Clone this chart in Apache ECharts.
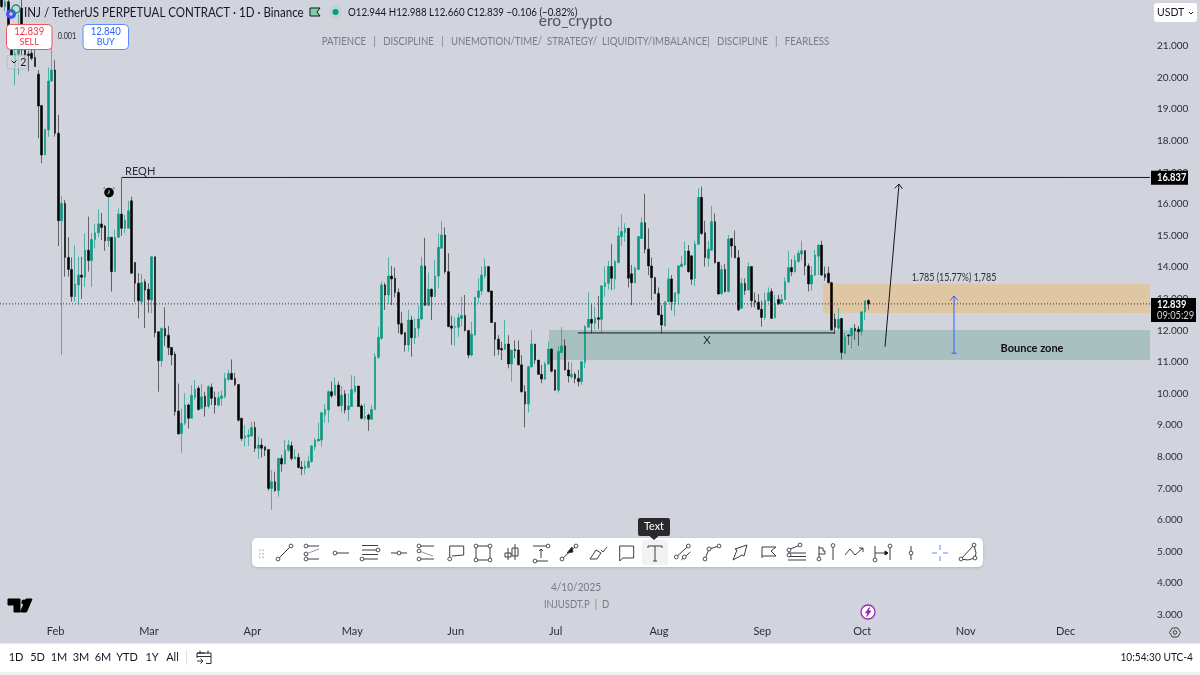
<!DOCTYPE html>
<html><head><meta charset="utf-8">
<style>html,body{margin:0;padding:0;background:#d1d4dc}#c{width:1200px;height:675px}</style>
<script src="https://cdn.jsdelivr.net/npm/echarts@6/dist/echarts.min.js"></script>
</head><body><div id="c"></div>
<script>
// ---- chart values (INJUSDT.P daily, 17 Jan 2025 .. 4 Oct 2025) ----
const firstDay = '2025-01-17';
const dayCount = 345;
const monthLabels = ['Jan','Feb','Mar','Apr','May','Jun','Jul','Aug','Sep','Oct','Nov','Dec'];
const priceTicksHidden = [2, 22];
const opens = [
22.6,22.25,22.4,21.2,20.35,20.75,22.2,20.87,20.75,20.77,
20.64,20.11,19.12,17.55,18.34,19.89,20.24,18.24,15.47,16.02,
14.31,13.93,13.07,13.44,13.75,13.68,14.54,14.21,14.88,15.09,
15.37,15.30,14.84,14.95,13.86,14.95,15.68,15.23,15.23,16.10,
14.15,13.49,12.91,13.54,13.30,12.96,14.33,11.96,11.04,12.06,
11.85,11.46,11.25,9.45,8.74,9.06,9.64,9.22,9.88,10.17,
9.53,9.92,9.60,10.20,9.88,9.64,9.85,9.90,10.45,10.64,
10.48,10.29,9.22,8.60,8.64,8.66,8.93,8.27,8.37,8.32,
8.23,7.0,7.21,6.93,7.95,7.77,8.21,8.35,7.93,7.98,
7.67,7.63,7.67,7.85,8.32,8.50,8.53,9.32,9.48,10.06,
9.95,10.27,9.62,9.99,9.50,9.59,10.06,10.24,9.61,9.24,
9.32,9.19,9.50,11.15,11.75,13.44,13.12,13.72,13.65,13.20,
12.22,11.93,11.54,12.33,11.77,12.07,12.36,14.04,12.80,13.30,
13.07,13.72,14.60,15.02,13.86,12.14,12.10,12.10,12.38,12.47,
12.0,11.22,11.86,13.05,13.25,13.72,14.02,13.25,12.25,11.72,
11.43,11.40,11.57,10.94,11.40,11.38,10.91,10.06,9.67,10.85,
11.57,11.06,10.61,10.46,10.94,11.41,10.75,10.11,11.30,11.51,
10.75,10.53,10.61,10.48,10.38,10.99,12.10,12.35,12.23,12.40,
12.35,13.39,13.49,14.02,13.63,14.15,14.97,15.10,15.23,13.79,
13.51,13.93,14.91,15.41,14.57,14.04,13.67,13.17,12.49,12.15,
12.91,13.63,12.89,13.17,14.02,14.07,14.51,14.36,13.65,14.73,
16.21,15.09,14.28,14.54,15.44,14.16,13.17,13.93,13.23,14.91,
14.67,14.30,12.70,13.49,13.28,14.02,12.94,12.89,12.67,12.41,
12.94,13.23,12.40,12.98,12.86,12.98,13.54,13.99,13.86,14.18,
14.42,14.52,14.04,13.47,13.75,14.35,14.70,13.78,13.81,13.51,
12.35,12.07,12.38,11.28,11.85,11.83,12.07,12.04,11.96,12.59,
12.944];
const closes = [
22.25,22.4,21.2,20.7,20.75,21.05,20.87,20.72,20.7,20.61,
20.35,19.1,17.55,18.36,19.89,20.24,18.24,15.47,16.02,14.31,
13.93,13.07,13.47,13.75,13.68,14.54,14.21,14.88,15.09,15.37,
15.26,14.84,14.95,13.86,14.95,15.68,15.23,15.49,15.79,13.81,
13.49,12.94,13.51,13.28,12.98,14.33,11.93,11.04,12.06,11.82,
11.46,11.22,9.43,8.72,9.06,9.64,9.22,9.95,10.13,9.50,
9.90,9.59,10.22,9.85,9.64,9.87,9.93,10.48,10.64,10.45,
10.29,9.16,8.58,8.66,8.69,8.93,8.27,8.37,8.27,8.21,
7.0,7.21,6.93,7.95,7.77,8.21,8.37,7.95,8.0,7.66,
7.63,7.71,7.85,8.34,8.53,8.56,9.40,9.50,10.06,9.93,
10.27,9.61,9.95,9.48,9.61,10.13,10.24,9.59,9.22,9.27,
9.19,9.50,11.17,11.78,13.44,13.12,13.72,13.63,13.20,12.20,
11.89,11.54,12.33,11.77,12.07,12.36,14.04,12.80,13.30,13.07,
13.72,14.63,15.02,13.86,12.12,12.07,12.12,12.40,12.47,12.0,
11.22,11.88,13.05,13.25,13.75,14.02,13.23,12.25,11.72,11.40,
11.38,11.57,10.94,11.38,11.36,10.91,10.06,9.67,10.85,11.57,
11.06,10.61,10.46,10.94,11.41,10.71,10.11,11.33,11.51,10.75,
10.56,10.61,10.48,10.38,11.01,12.12,12.35,12.23,12.40,12.35,
13.41,13.51,14.02,13.65,14.18,14.99,15.13,15.23,13.65,13.51,
13.97,14.97,15.41,14.57,14.04,13.67,13.17,12.49,12.17,12.91,
13.63,12.91,13.19,14.04,14.10,14.51,13.86,13.62,14.73,16.21,
15.07,14.31,14.57,15.44,14.14,13.15,13.93,13.23,14.89,14.67,
14.30,12.65,13.49,13.26,14.02,12.94,12.89,12.67,12.41,12.94,
13.19,12.38,12.86,12.84,12.98,13.54,13.99,13.86,14.21,14.44,
14.52,14.04,13.47,13.75,14.39,14.70,13.75,13.68,13.51,12.01,
12.10,12.35,11.30,11.80,11.82,12.07,11.99,11.96,12.59,12.94,
12.839];
const lows = [
22.2,22.1,21.0,20.7,19.77,20.08,20.7,20.6,20.2,20.55,
20.35,18.08,17.29,17.55,18.13,19.87,18.13,14.67,11.22,13.70,
13.70,12.91,12.91,12.83,13.0,13.38,13.86,13.38,14.60,14.95,
14.86,14.52,14.65,13.23,13.86,14.93,14.99,15.07,15.23,13.79,
12.9,12.38,12.83,12.07,12.56,12.54,11.78,10.06,10.85,11.51,
11.22,10.90,9.30,8.72,8.13,9.0,8.90,9.22,9.80,9.46,
9.50,9.27,9.53,9.64,9.37,9.59,9.61,9.85,10.41,10.43,
10.24,9.11,8.51,8.32,8.34,8.64,8.16,7.93,7.98,8.02,
6.93,6.32,6.89,6.74,7.53,7.77,8.16,7.88,7.92,7.63,
7.42,7.45,7.63,7.82,8.21,8.48,8.32,9.08,9.08,9.87,
9.95,9.59,9.41,9.37,9.14,9.59,10.03,9.59,9.18,9.16,
8.82,9.16,9.48,11.10,11.70,12.65,12.84,12.80,13.05,11.91,
11.85,11.33,11.33,11.17,11.57,11.80,12.33,12.77,12.77,12.33,
13.05,13.33,14.60,13.79,12.10,11.54,11.51,11.80,12.14,11.96,
11.12,11.17,11.82,12.86,13.12,13.65,13.20,12.23,11.19,11.22,
11.06,11.38,10.80,10.38,11.12,10.88,10.03,8.93,9.40,10.82,
10.94,10.59,10.33,10.43,10.91,10.67,10.09,10.03,11.28,10.73,
10.35,10.48,10.33,10.22,10.27,10.80,12.10,11.91,12.04,12.04,
11.91,13.07,13.30,13.28,13.30,14.12,14.67,14.81,13.36,12.80,
13.49,13.91,14.91,14.44,13.75,12.96,13.15,12.49,11.91,12.12,
12.89,12.63,12.47,12.83,14.0,14.05,13.83,13.44,13.41,14.70,
15.02,14.02,14.02,14.54,14.12,13.15,13.12,13.20,13.20,14.31,
14.28,12.61,12.70,13.12,13.26,12.73,12.73,12.65,12.12,12.33,
12.91,12.36,12.38,12.80,12.84,12.96,13.49,13.72,13.83,14.14,
14.21,13.75,13.23,13.26,13.72,13.75,13.72,13.57,13.49,12.01,
11.89,12.02,11.08,11.25,11.54,11.43,11.70,11.51,11.83,12.33,
12.660];
const highs = [
23.0,22.9,22.7,21.5,21.2,22.0,22.5,21.0,20.85,20.9,
20.87,20.24,19.12,18.36,20.32,20.98,20.56,18.82,16.25,16.13,
14.95,14.31,14.70,14.33,14.33,15.07,15.6,15.07,15.37,15.83,
15.71,15.34,16.5,14.95,15.18,15.86,16.84,15.65,16.10,16.23,
14.15,13.81,13.78,13.62,13.49,14.35,14.33,11.96,12.10,12.73,
12.14,11.46,11.33,10.32,9.53,10.01,9.69,10.27,10.43,10.24,
10.30,10.06,10.27,10.32,10.06,10.06,10.09,10.66,10.75,11.08,
10.66,10.29,9.24,9.0,8.87,9.11,9.11,8.64,8.58,8.32,
8.23,7.58,7.53,7.95,8.06,8.53,8.53,8.48,8.24,8.11,
7.87,7.88,8.04,8.37,8.60,9.08,9.40,9.67,10.11,10.38,
10.51,10.38,10.24,10.11,10.0,10.58,10.56,10.24,9.67,9.67,
9.37,9.64,11.27,12.12,13.55,13.51,14.31,14.04,13.99,13.33,
12.59,11.93,12.65,12.46,12.38,12.80,14.33,14.93,13.83,13.33,
14.23,15.07,15.46,15.26,14.44,12.46,12.41,12.54,13.07,13.12,
12.0,12.28,13.05,13.65,14.02,14.28,14.04,13.25,12.25,11.85,
11.64,12.33,11.85,11.38,11.68,11.68,11.22,10.27,10.88,12.01,
11.57,11.06,10.91,11.01,11.64,11.43,10.77,11.49,12.10,11.72,
11.01,10.99,10.67,10.75,11.04,12.17,13.20,12.82,12.75,13.09,
13.41,14.02,14.21,14.73,14.23,15.28,15.68,15.39,15.23,14.07,
14.02,14.97,15.58,16.32,15.23,14.31,13.70,13.36,12.80,12.91,
13.96,13.75,13.19,14.07,14.36,14.81,14.70,14.36,14.84,16.50,
16.55,15.47,14.83,15.94,15.70,14.16,14.07,14.10,15.02,14.91,
15.16,14.54,13.65,13.65,14.15,14.02,13.20,13.15,12.94,13.20,
13.36,13.33,13.12,13.12,13.15,13.68,14.52,14.25,14.39,14.54,
14.84,14.54,14.12,14.02,14.54,14.73,14.84,14.02,14.02,13.54,
12.54,12.70,12.38,11.93,11.89,12.07,12.20,12.14,12.59,12.94,
12.988];
const lastPrice = 12.839;
const levelPrice = 16.837;
// annotation geometry in chart units: [day position, price, day position, price]
const zoneTeal   = [164.7, 12.01, 345, 11.06];
const zoneOrange = [246.9, 13.48, 345, 12.55];
const lineReqh   = [36.6, 16.84, 345, 16.84];
const lineX      = [173.4, 11.92, 250.5, 11.92];
const arrowUp    = [265.5, 11.48, 269.7, 16.63];
const arrowMeasure = [286.2, 11.28, 286.2, 13.09];
const linePrice  = [0, lastPrice, 345, lastPrice];
const notes = [
  ['REQH', 37.5, 17.04],
  ['X', 212.1, 11.70],
  ['Bounce zone', 309.6, 11.44],
  ['1.785 (15.77%) 1,785', 286.2, 13.66]
];

// ---- derived ----
const categories = [];
{ const d0 = new Date(firstDay + 'T00:00:00Z');
  for (let i = 0; i < dayCount; i++) categories.push(new Date(d0.getTime() + i * 864e5).toISOString().slice(0, 10)); }
const candles = opens.map((o, i) => [o, closes[i], lows[i], highs[i]]);

const INK = '#131722', GREY = '#787b86', GREEN = '#089981';
const FONT = 'Lato,"Noto Sans",Arial,sans-serif';

// ---- pixel chrome (toolbar, buttons, bars) ----
const els = [];
// sx squeezes the text horizontally about its anchor, to match the reference's narrower face
const T = (text, x, y, size, fill, extra, sx) => els.push({type:'text', z:100, x, y, scaleX:sx||1, scaleY:1, style:Object.assign({text, x:0, y:0, fontSize:size, fontFamily:FONT, fill, align:'left', verticalAlign:'middle'}, extra||{})});
const R = (x, y, w, h, fill, r, stroke, extra) => els.push({type:'rect', z:100, shape:{x,y,width:w,height:h,r:r||0}, style:Object.assign({fill, stroke:stroke||null, lineWidth:1}, extra||{})});
const C = (cx, cy, r, fill, stroke, lw) => els.push({type:'circle', z:101, shape:{cx,cy,r}, style:{fill, stroke:stroke||null, lineWidth:lw||1}});
const P = (pts, stroke, lw, fill) => els.push({type:fill?'polygon':'polyline', z:101, shape:{points:pts}, style:{stroke:stroke||INK, lineWidth:lw||1, fill:fill||null}});

// header
C(11, 14, 5, '#4a4df0'); C(11, 14, 1.8, '#d1d4dc');
C(16, 9, 4, 'none', GREEN, 1.5);
T('INJ / TetherUS PERPETUAL CONTRACT · 1D · Binance', 24, 12.5, 13, INK, null, 0.888);
P([[310,8],[320,8],[317,12],[320,16],[310,16]], null, 0, '#7fd0a0');
C(335.5, 12, 6.5, '#bcd4d4'); C(335.5, 12, 3, GREEN);
T('O12.944 H12.988 L12.660 C12.839 −0.106 (−0.82%)', 348, 12.5, 11.3, INK, null, 0.86);
T('ero_crypto', 575.5, 21, 15.5, '#50535e', {align:'center'});
T('PATIENCE   |   DISCIPLINE   |   UNEMOTION/TIME/  STRATEGY/  LIQUIDITY/IMBALANCE|   DISCIPLINE   |   FEARLESS', 575.5, 41.5, 11.2, GREY, {align:'center'}, 0.858);

// buy / sell
R(6.5, 24.5, 45.5, 25, '#fff', 4, '#f7525f');
T('12.839', 29.2, 31.5, 11.5, '#f23645', {align:'center'}, 0.83);
T('SELL', 29.2, 42.5, 9, '#f23645', {align:'center'});
T('0.001', 67, 36.5, 8.5, '#2a2e39', {align:'center'}, 0.85);
R(83, 24.5, 45.5, 25, '#fff', 4, '#5b8bff');
T('12.840', 105.7, 31.5, 11.5, '#2962ff', {align:'center'}, 0.83);
T('BUY', 105.7, 42.5, 9, '#2962ff', {align:'center'});
R(7, 55, 20, 14, 'rgba(209,212,220,0.7)', 2, 'rgba(120,123,134,0.25)');
P([[11.5,60.5],[14,63],[16.5,60.5]], INK, 1);
T('2', 23.2, 62.5, 10.5, INK, {align:'center'});

// price scale chrome
R(1154, 3, 43, 19, '#fff', 3);
T('USDT', 1157, 12.7, 10.5, INK);
P([[1189,12],[1191,14],[1193,12]], INK, 1);

// alarm icon
C(109, 192.5, 4.8, '#000');
P([[109,190],[109,193],[107.5,194]], '#fff', 0.8);
P([[103.5,188.5],[105,187.5]], '#222', 0.8); P([[113,187.5],[114.5,188.5]], '#222', 0.8);

// bottom texts and logos
T('4/10/2025', 576, 587, 11.5, GREY, {align:'center'}, 0.88);
T('INJUSDT.P  |  D', 576.5, 604.5, 10.8, GREY, {align:'center'}, 0.88);
P([[8,599],[20,599],[20,612],[14,612],[14,605],[8,605]], '#000', 0, '#000');
C(24, 602, 2.6, '#000');
P([[32,599],[26.5,612],[20.5,612],[26,599]], '#000', 0, '#000');
C(868, 612, 7, '#fff', '#9c27b0', 1.3);
P([[869.5,607.5],[865.5,612.8],[868,612.8],[866.8,616.5],[870.8,611],[868.3,611]], '#9c27b0', 0, '#9c27b0');
P([[1169.5,632.5],[1172.3,628],[1177.7,628],[1180.5,632.5],[1177.7,637],[1172.3,637],[1169.5,632.5]], '#3a3d45', 1);
C(1175, 632.5, 1.8, 'none', '#3a3d45', 1);

// bottom bar
R(0, 643.5, 1200, 28.5, '#fff');
R(0, 672, 1200, 3, '#f0f0f0');
[['1D',16],['5D',37.5],['1M',59],['3M',81],['6M',103],['YTD',127],['1Y',152],['All',172.5]].forEach(a => T(a[0], a[1], 657.7, 11, INK, {align:'center'}));
R(186, 650, 1, 15, '#e0e3eb');
P([[205,653],[197,653],[197,658]], '#2a2e39', 1); P([[197,653],[211,653],[211,663.5],[206,663.5]], '#2a2e39', 1);
P([[197,656.5],[211,656.5]], '#2a2e39', 1); P([[200,650.5],[200,654]], '#2a2e39', 1); P([[208,650.5],[208,654]], '#2a2e39', 1);
P([[197,661],[203,661]], '#2a2e39', 1); P([[200.5,658.5],[203,661],[200.5,663.5]], '#2a2e39', 1);
T('10:54:30 UTC-4', 1193, 657.5, 11.8, INK, {align:'right'}, 0.86);

// drawing toolbar
R(252, 538, 731, 29, '#fff', 5, null, {shadowBlur:3, shadowColor:'rgba(0,0,0,0.15)', shadowOffsetY:1});
R(642, 540, 26, 25, '#f2f2f2', 2);
for (const dx of [259,262.5]) for (const dy of [549.5,553,556.5]) R(dx, dy, 1.4, 1.4, '#b2b5be');
const CY = 553, IC = '#3a3d45';
const L = (cx, pts, col) => P(pts.map(p => [cx + p[0], CY + p[1]]), col || IC, 1);
const N = (cx, pts) => pts.forEach(p => C(cx + p[0], CY + p[1], 1.9, '#fff', IC, 0.9));
L(284.5,[[-6.5,6],[6.5,-7]]); N(284.5,[[-6.5,6],[6.5,-7]]);
L(312,[[-6,-7],[7,-7]]); L(312,[[-6,1],[7,-4]],'#9598a1'); L(312,[[-6,6],[7,6]]); N(312,[[-6,-7],[-6,1],[-6,6]]);
L(342,[[-7,0],[7,0]]); N(342,[[-7,0]]);
L(370,[[-8,-7.5],[8,-7.5]]); L(370,[[-8,-3],[8,-3]]); L(370,[[-8,1.5],[8,1.5]]); L(370,[[-8,6],[8,6]]); N(370,[[8,-3],[-8,6]]);
L(399,[[-8,0],[8,0]]); N(399,[[0,0]]);
L(426,[[-7,-7],[8,-7]]); L(426,[[-7,-2],[7,3]],'#9598a1'); L(426,[[-7,6],[8,6]]); N(426,[[-7,-7],[-7,-2],[-7,6]]);
L(456.7,[[-7,6],[-7,-7],[7,-7],[7,2],[-5,3]]); N(456.7,[[-7,6]]);
L(483,[[-7,-7],[7,-7],[7,7],[-7,7],[-7,-7]]); N(483,[[-7,-7],[7,-7],[7,7],[-7,7]]);
L(512,[[3,-9],[3,7]]); L(512,[[0,-5],[6,-5],[6,3],[0,3],[0,-5]]); L(512,[[-4,-5],[-4,7]]); L(512,[[-7,0],[-1,0],[-1,4],[-7,4],[-7,0]]);
L(541,[[-8,-7],[7,-7]]); L(541,[[-8,8],[7,8]]); L(541,[[0,-4],[0,5]]); L(541,[[-2,-2],[0,-4],[2,-2]]); N(541,[[7,-7],[-6,8]]);
L(569,[[-7,6],[7,-7]]); N(569,[[-7,6],[7,-7]]); P([[569+3,CY-6],[569+4,CY-1],[569-2,CY+0]], IC, 0, '#131722');
L(598,[[-8,6],[-2,-3],[3,0],[-1,6],[-8,6]]); L(598,[[3,-3],[5,-1],[9,-6]]);
L(626.7,[[-7,-7],[7,-7],[7,5],[-4,5],[-7,8],[-7,-7]]);
L(655,[[-7,-5],[-7,-7],[7,-7],[7,-5]]); L(655,[[0,-7],[0,8]]); L(655,[[-2,8],[2,8]]);
L(683.3,[[-7,4],[5,-7]]); L(683.3,[[-2,7],[7,-1]]); N(683.3,[[-7,4],[5,-7],[1,4]]);
L(712,[[-7,6],[-3,-4],[7,-7]]); N(712,[[-7,6],[-3,-4],[7,-7]]);
L(740,[[-7,7],[-3,-3],[-5,-4],[7,-8],[4,3],[2,2],[-7,7]]);
L(768,[[-6,5],[-6,-6],[8,-6],[3,-2],[8,3],[-6,3]]);
L(797,[[-9,-3],[3,-8]]); L(797,[[-9,0],[9,0]]); L(797,[[-9,3.5],[9,3.5]]); L(797,[[-9,7],[9,7]]); N(797,[[-8,-3],[3,-8],[-8,2]]);
L(820,[[-1,-7],[-1,6]]); L(820,[[-1,-5],[3,-5],[3,-2],[5,-2],[5,1],[-1,1]]); N(820,[[-1,6]]);
L(833,[[0,-6],[0,7]]); N(833,[[0,-7.5]]);
L(854,[[-9,2],[-4,-4],[1,2],[9,-5]]); L(854,[[5,-5],[9,-5],[9,-1]]);
L(882,[[-7,-7],[-7,7]]); L(882,[[8,-6],[8,7]]); L(882,[[-7,0],[5,0]]); P([[882+6,CY],[882+3,CY-2],[882+3,CY+2]], INK, 0, INK); N(882,[[-7,7],[8,-7]]);
L(911,[[0,-7],[0,7]]); N(911,[[0,0]]);
const BL = '#5b8bff';
L(940,[[-8,0],[-3,0]],BL); L(940,[[3,0],[8,0]],BL); L(940,[[0,-8],[0,-3]],BL); L(940,[[0,3],[0,8]],BL);
L(968,[[-7,6],[6,-8]]); L(968,[[6,-8],[8,0],[7,5],[0,7],[-7,6]]); N(968,[[-7,6],[6,-8],[7,5]]);
R(638, 518, 32, 18, '#2a2a2e', 2);
P([[650,536],[658,536],[654,539.5]], '#2a2a2e', 0, '#2a2a2e');
T('Text', 654, 526.8, 10.8, '#fff', {align:'center'});

// ---- series renderers ----
const rectSeries = (geo, color, z) => ({
  type:'custom', xAxisIndex:1, yAxisIndex:0, z, silent:true, data:[geo], encode:{x:[0,2], y:[1,3]},
  renderItem:(p, api) => {
    const a = api.coord([api.value(0), api.value(1)]), b = api.coord([api.value(2), api.value(3)]);
    return {type:'rect', shape:{x:a[0], y:a[1], width:b[0]-a[0], height:b[1]-a[1]}, style:{fill:color}};
  }
});
const lineSeries = (geo, color, width, dash, head) => ({
  type:'custom', xAxisIndex:1, yAxisIndex:0, z:5, silent:true, data:[geo], encode:{x:[0,2], y:[1,3]},
  renderItem:(p, api) => {
    const a = api.coord([api.value(0), api.value(1)]), b = api.coord([api.value(2), api.value(3)]);
    const kids = [{type:'line', shape:{x1:a[0], y1:a[1], x2:b[0], y2:b[1]}, style:{stroke:color, lineWidth:width, lineDash:dash||null}}];
    if (head) {
      const t = Math.atan2(b[1]-a[1], b[0]-a[0]);
      const h = s => [b[0]-6*Math.cos(t+s), b[1]-6*Math.sin(t+s)];
      kids.push({type:'polyline', shape:{points:[h(0.72), [b[0],b[1]], h(-0.72)]}, style:{stroke:color, lineWidth:width, fill:null}});
      if (head === 'cap') kids.push({type:'line', shape:{x1:a[0]-2.5, y1:a[1], x2:a[0]+2.5, y2:a[1]}, style:{stroke:color, lineWidth:width}});
    }
    return {type:'group', children:kids};
  }
});
const noteStyle = [
  {fontSize:11, fill:'#2a2e39', align:'left'},
  {fontSize:11.5, fill:'#2a2e39', align:'center'},
  {fontSize:11, fontWeight:'bold', fill:'#0c0e14', align:'center'},
  {fontSize:10.6, fill:'#2a2e39', align:'center'}
];
const noteSqueeze = [1, 1, 1, 0.84];
const noteSeries = {
  type:'custom', xAxisIndex:1, yAxisIndex:0, z:6, silent:true, data:notes.map(n => [n[1], n[2]]), encode:{x:0, y:1},
  renderItem:(p, api) => {
    const c = api.coord([api.value(0), api.value(1)]);
    return {type:'text', x:c[0], y:c[1], scaleX:noteSqueeze[p.dataIndex], scaleY:1,
      style:Object.assign({text:notes[p.dataIndex][0], x:0, y:0, verticalAlign:'middle', fontFamily:FONT}, noteStyle[p.dataIndex])};
  }
};
const tagSeries = {
  type:'custom', xAxisIndex:1, yAxisIndex:0, z:7, silent:true, data:[[345, levelPrice],[345, lastPrice]], encode:{x:0, y:1},
  renderItem:(p, api) => {
    const c = api.coord([api.value(0), api.value(1)]);
    const txt = (text, y, fill, weight) => ({type:'text', x:c[0]+7, y, scaleX:0.85, scaleY:1, style:{text, x:0, y:0, verticalAlign:'middle', fontSize:11, fontWeight:weight||'bold', fontFamily:FONT, fill}});
    if (p.dataIndex === 0) return {type:'group', children:[
      {type:'rect', shape:{x:c[0]+1, y:c[1]-6.8, width:37, height:14}, style:{fill:'#000'}},
      txt('16.837', c[1]+0.2, '#fff')]};
    return {type:'group', children:[
      {type:'rect', shape:{x:c[0]+1, y:c[1]-6, width:45, height:24}, style:{fill:'#000'}},
      txt('12.839', c[1]+1, '#fff'),
      txt('09:05:29', c[1]+12, '#d1d4dc', 'normal')]};
  }
};

const chart = echarts.init(document.getElementById('c'), null, {renderer:'canvas', width:1200, height:675});
chart.setOption({
  animation:false,
  backgroundColor:'#d1d4dc',
  grid:{left:0, width:1150, top:0, height:646.4, containLabel:false},
  xAxis:[{
    type:'category', data:categories, position:'bottom',
    axisLine:{show:false}, axisTick:{show:false}, splitLine:{show:false},
    axisLabel:{
      inside:true, margin:9, padding:[0,0,0,8], color:'#2a2e39', fontSize:11, fontFamily:FONT, hideOverlap:false,
      interval:(i, v) => v.slice(8) === '01',
      formatter:v => monthLabels[+v.slice(5,7) - 1]
    }
  },{
    type:'value', min:0, max:345, show:false, splitLine:{show:false}
  }],
  yAxis:[{
    type:'value', position:'right', min:2, max:22.456, interval:1,
    axisLine:{show:false}, axisTick:{show:false}, splitLine:{show:false},
    axisLabel:{
      margin:7, color:'#2a2e39', fontSize:10, fontFamily:FONT, showMinLabel:true, showMaxLabel:true,
      formatter:v => (!Number.isInteger(v) || priceTicksHidden.includes(v)) ? '' : v.toFixed(3)
    }
  }],
  graphic:{elements:els},
  series:[
    rectSeries(zoneTeal, '#a9c0c1', 1),
    rectSeries(zoneOrange, '#e0c7a4', 1),
    {
      type:'candlestick', xAxisIndex:0, yAxisIndex:0, z:3, barWidth:2.2, data:candles,
      itemStyle:{color:GREEN, color0:'#000', borderColor:'rgba(8,153,129,0.7)', borderColor0:'rgba(0,0,0,0.6)', borderWidth:0.9}
    },
    lineSeries(linePrice, '#2a2e39', 1, [1,2]),
    lineSeries(lineReqh, '#131722', 1),
    lineSeries(lineX, '#131722', 1),
    lineSeries(arrowUp, '#131722', 1, null, 'open'),
    lineSeries(arrowMeasure, '#2962ff', 1, null, 'cap'),
    noteSeries,
    tagSeries
  ]
});
</script></body></html>
